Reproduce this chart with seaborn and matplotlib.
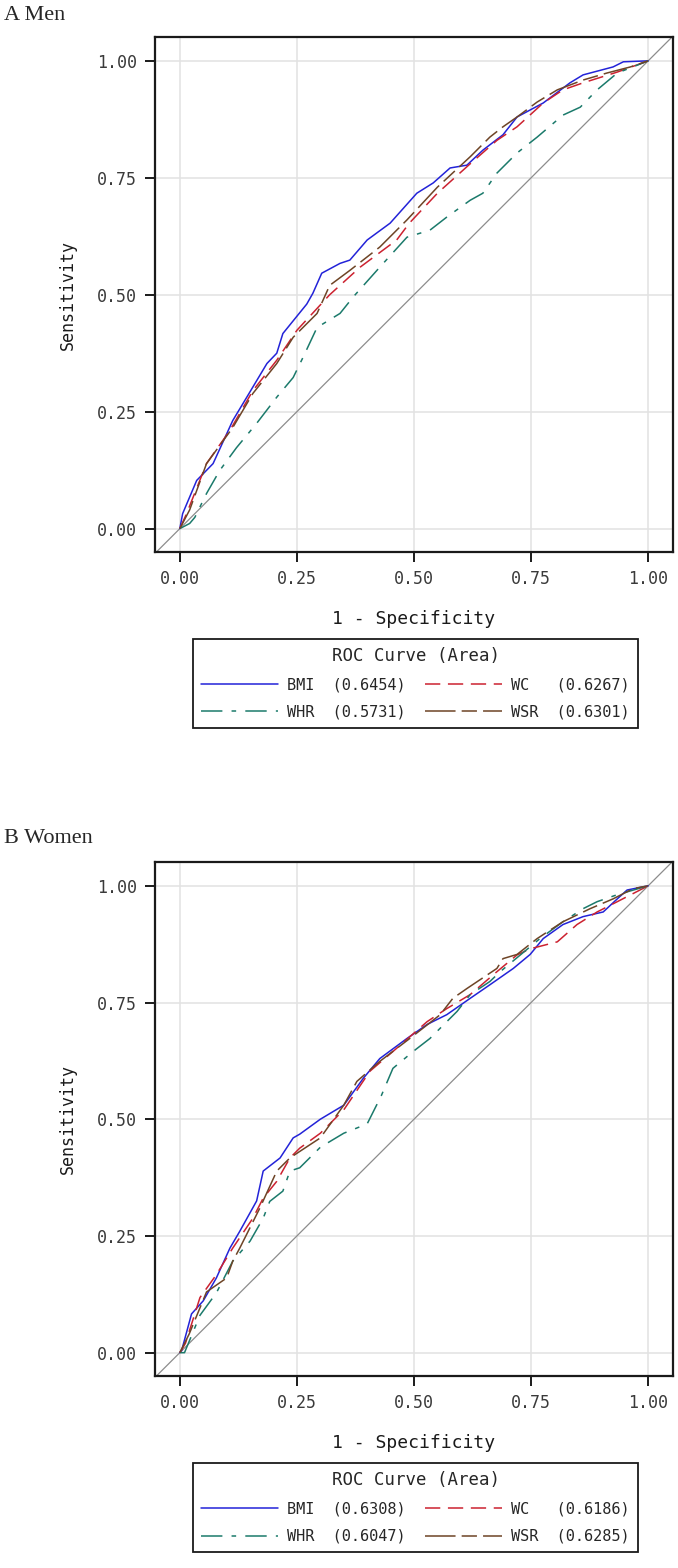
import matplotlib
matplotlib.use("Agg")
import matplotlib.pyplot as plt
import seaborn as sns

# Panel A: men  (1 - specificity, sensitivity)
men_bmi_x = [0, 0.006, 0.036, 0.071, 0.113, 0.143, 0.186, 0.207, 0.22, 0.271, 0.284, 0.303, 0.342, 0.363, 0.40,
             0.449, 0.506, 0.541, 0.577, 0.613, 0.647, 0.69, 0.72, 0.776, 0.833, 0.861, 0.925, 0.947, 1.0]
men_bmi_y = [0, 0.032, 0.103, 0.139, 0.231, 0.281, 0.353, 0.375, 0.417, 0.48, 0.503, 0.546, 0.567, 0.574, 0.617,
             0.653, 0.717, 0.739, 0.771, 0.777, 0.809, 0.842, 0.88, 0.91, 0.953, 0.97, 0.987, 0.998, 1.0]
men_wc_x = [0, 0.014, 0.057, 0.107, 0.156, 0.207, 0.25, 0.32, 0.385, 0.463, 0.49, 0.55, 0.62, 0.677, 0.72,
            0.776, 0.818, 0.861, 0.934, 1.0]
men_wc_y = [0, 0.031, 0.139, 0.21, 0.295, 0.36, 0.424, 0.5, 0.559, 0.617, 0.653, 0.717, 0.78, 0.83, 0.859,
            0.91, 0.938, 0.953, 0.976, 1.0]
men_whr_x = [0, 0.021, 0.032, 0.057, 0.085, 0.121, 0.164, 0.207, 0.242, 0.263, 0.293, 0.342, 0.37, 0.427, 0.485,
             0.534, 0.57, 0.62, 0.647, 0.677, 0.72, 0.763, 0.818, 0.855, 0.891, 0.934, 1.0]
men_whr_y = [0, 0.011, 0.024, 0.075, 0.124, 0.173, 0.225, 0.281, 0.323, 0.366, 0.43, 0.46, 0.495, 0.559, 0.623,
             0.638, 0.666, 0.702, 0.717, 0.76, 0.803, 0.837, 0.884, 0.901, 0.938, 0.974, 1.0]
men_wsr_x = [0, 0.021, 0.057, 0.113, 0.156, 0.207, 0.242, 0.293, 0.32, 0.363, 0.427, 0.485, 0.55, 0.62, 0.662,
             0.69, 0.72, 0.763, 0.806, 0.861, 0.912, 0.962, 1.0]
men_wsr_y = [0, 0.04, 0.139, 0.216, 0.289, 0.353, 0.409, 0.46, 0.52, 0.552, 0.602, 0.66, 0.73, 0.795, 0.837,
             0.859, 0.88, 0.912, 0.938, 0.959, 0.974, 0.987, 1.0]

# Panel B: women
women_bmi_x = [0, 0.004, 0.025, 0.05, 0.078, 0.107, 0.128, 0.164, 0.178, 0.214, 0.242, 0.256, 0.30, 0.35, 0.392,
               0.427, 0.485, 0.528, 0.57, 0.62, 0.662, 0.712, 0.748, 0.776, 0.818, 0.861, 0.904, 0.934, 0.955, 1.0]
women_bmi_y = [0, 0.005, 0.083, 0.111, 0.16, 0.224, 0.26, 0.325, 0.389, 0.417, 0.46, 0.468, 0.50, 0.53, 0.588,
               0.63, 0.673, 0.703, 0.724, 0.759, 0.788, 0.823, 0.853, 0.887, 0.917, 0.934, 0.944, 0.972, 0.991, 1.0]
women_wc_x = [0, 0.012, 0.043, 0.078, 0.113, 0.156, 0.178, 0.207, 0.235, 0.256, 0.30, 0.35, 0.406, 0.463, 0.528,
              0.57, 0.62, 0.677, 0.72, 0.748, 0.806, 0.848, 0.891, 0.934, 1.0]
women_wc_y = [0, 0.02, 0.118, 0.167, 0.224, 0.288, 0.331, 0.367, 0.417, 0.438, 0.47, 0.52, 0.603, 0.652, 0.709,
              0.737, 0.767, 0.816, 0.852, 0.865, 0.88, 0.917, 0.944, 0.966, 1.0]
women_whr_x = [0, 0.01, 0.043, 0.078, 0.113, 0.15, 0.178, 0.192, 0.22, 0.235, 0.256, 0.30, 0.35, 0.40, 0.43,
               0.455, 0.498, 0.534, 0.592, 0.62, 0.662, 0.684, 0.769, 0.818, 0.861, 0.891, 0.934, 1.0]
women_whr_y = [0, 0.0, 0.08, 0.128, 0.196, 0.239, 0.288, 0.324, 0.346, 0.389, 0.396, 0.44, 0.47, 0.49, 0.55,
               0.609, 0.645, 0.673, 0.731, 0.767, 0.795, 0.816, 0.887, 0.923, 0.951, 0.966, 0.981, 1.0]
women_wsr_x = [0, 0.02, 0.057, 0.1, 0.113, 0.128, 0.171, 0.207, 0.235, 0.256, 0.30, 0.35, 0.378, 0.427, 0.491,
               0.556, 0.583, 0.613, 0.677, 0.69, 0.72, 0.763, 0.818, 0.876, 0.925, 0.968, 1.0]
women_wsr_y = [0, 0.04, 0.13, 0.16, 0.196, 0.224, 0.31, 0.389, 0.417, 0.431, 0.46, 0.53, 0.581, 0.624, 0.673,
               0.724, 0.759, 0.78, 0.823, 0.844, 0.853, 0.887, 0.923, 0.951, 0.972, 0.994, 1.0]

men_auc = {"BMI": "0.6454", "WC": "0.6267", "WHR": "0.5731", "WSR": "0.6301"}
women_auc = {"BMI": "0.6308", "WC": "0.6186", "WHR": "0.6047", "WSR": "0.6285"}
ticks = [0, 0.25, 0.5, 0.75, 1.0]
tick_labels = ["0.00", "0.25", "0.50", "0.75", "1.00"]

styles = {
    "BMI": dict(color="#2323d8", linestyle="-"),
    "WC": dict(color="#cc2230", linestyle=(0, (10, 5))),
    "WHR": dict(color="#1b7a6b", linestyle=(0, (14, 6, 3, 6))),
    "WSR": dict(color="#6e4426", linestyle=(0, (20, 4, 10, 4))),
}

sns.set_style("whitegrid")
plt.rcParams["font.family"] = ["DejaVu Sans Mono", "DejaVu Sans"]

fig = plt.figure(figsize=(6.78, 15.68), dpi=100)
ax1 = fig.add_axes([155 / 678, 1 - 552 / 1568, 518 / 678, 515 / 1568])
ax2 = fig.add_axes([155 / 678, 1 - 1376 / 1568, 518 / 678, 514 / 1568])


def draw_panel(ax, series, auc, legend_top):
    ax.axline((0, 0), slope=1, color="#8c8c8c", lw=0.9, zorder=1)
    handles = {}
    for name, (xs, ys) in series.items():
        sns.lineplot(x=xs, y=ys, ax=ax, sort=False, estimator=None, lw=1.1, zorder=3, **styles[name])
        handles[name] = ax.lines[-1]
    ax.set_xlim(-0.053, 1.053)
    ax.set_ylim(-0.05, 1.051)
    ax.set_xticks(ticks)
    ax.set_xticklabels(tick_labels)
    ax.set_yticks(ticks)
    ax.set_yticklabels(tick_labels)
    ax.grid(True, color="#e2e2e2", lw=1.1)
    for s in ax.spines.values():
        s.set_color("#1a1a1a")
        s.set_linewidth(1.6)
    ax.tick_params(axis="both", direction="out", length=7, width=1.4, color="#1a1a1a",
                   labelsize=12, labelcolor="#3a3a3a", pad=6,
                   bottom=True, left=True, top=False, right=False)
    ax.set_xlabel("1 - Specificity", fontsize=13, color="#1a1a1a")
    ax.set_ylabel("Sensitivity", fontsize=12, color="#1a1a1a")
    ax.xaxis.set_label_coords(0.5, -0.112)
    ax.yaxis.set_label_coords(-0.15, 0.5)

    order = ["BMI", "WHR", "WC", "WSR"]
    labels = [f"{k:<3}  ({auc[k]})" for k in order]
    leg = ax.legend([handles[k] for k in order], labels, ncol=2, title="ROC Curve (Area)",
                    loc="upper center", bbox_to_anchor=(415.5 / 678, legend_top),
                    bbox_transform=fig.transFigure, frameon=True, fancybox=False,
                    edgecolor="#1a1a1a", framealpha=1, handlelength=5.0, handletextpad=0.6,
                    columnspacing=1.3, borderaxespad=0, borderpad=0.55, labelspacing=0.8,
                    prop={"family": "DejaVu Sans Mono", "size": 11},
                    title_fontproperties={"family": "DejaVu Sans Mono", "size": 12.5})
    leg.get_frame().set_linewidth(1.3)


draw_panel(ax1, {"BMI": (men_bmi_x, men_bmi_y), "WC": (men_wc_x, men_wc_y),
                 "WHR": (men_whr_x, men_whr_y), "WSR": (men_wsr_x, men_wsr_y)},
           men_auc, 1 - 639 / 1568)
draw_panel(ax2, {"BMI": (women_bmi_x, women_bmi_y), "WC": (women_wc_x, women_wc_y),
                 "WHR": (women_whr_x, women_whr_y), "WSR": (women_wsr_x, women_wsr_y)},
           women_auc, 1 - 1463 / 1568)

fig.text(0.006, 1 - 15 / 1568, "A Men", family="Liberation Serif", fontsize=16, va="center", ha="left")
fig.text(0.006, 1 - 838 / 1568, "B Women", family="Liberation Serif", fontsize=16, va="center", ha="left")

fig.savefig("out.png", dpi=100)
